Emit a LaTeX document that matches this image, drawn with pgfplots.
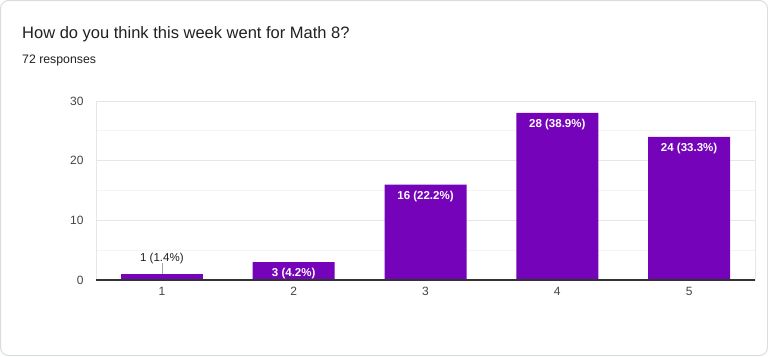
\documentclass[border=0pt]{standalone}
\usepackage{pgfplots}
\pgfplotsset{compat=1.18}
\usepackage{fontspec}
\setmainfont{Liberation Sans}
\definecolor{barpurple}{RGB}{117,3,185}
\definecolor{gridmaj}{RGB}{230,230,230}
\definecolor{gridmin}{RGB}{244,244,244}
\definecolor{cardborder}{RGB}{218,220,224}
\definecolor{txt}{RGB}{33,33,33}
\definecolor{ticktxt}{RGB}{68,68,68}
\begin{document}
\begin{tikzpicture}[x=1pt,y=1pt]
\fill[white] (0,0) rectangle (768,-356);
\draw[cardborder, rounded corners=8pt, line width=1pt] (0.5,-0.5) rectangle (767.5,-355.5);
\node[anchor=base west, text=txt, inner sep=0pt, font=\fontsize{16.5}{19}\selectfont] at (22,-38.5) {How do you think this week went for Math 8?};
\node[anchor=base west, text=txt, inner sep=0pt, font=\fontsize{12.3}{14}\selectfont] at (22,-63) {72 responses};
\begin{axis}[
  at={(96pt,-280pt)}, anchor=south west,
  scale only axis, width=659pt, height=179pt,
  xmin=0.5, xmax=5.5, ymin=0, ymax=30,
  xtick={1,2,3,4,5}, ytick={0,10,20,30},
  minor ytick={5,15,25},
  ymajorgrids, yminorgrids,
  major grid style={gridmaj, line width=0.8pt},
  minor grid style={gridmin, line width=0.8pt},
  axis line style={gridmaj, line width=0.8pt},
  major tick length=0pt, minor tick length=0pt,
  tick style={draw=none},
  /pgf/number format/assume math mode=true,
  ticklabel style={text=ticktxt, font=\fontsize{12}{14}\selectfont},
  yticklabel style={xshift=-9pt},
  xticklabel style={yshift=-4pt},
  clip=false,
]
\addplot[ybar, bar width=82pt, bar shift=0pt, fill=barpurple, draw=none,
  point meta=explicit symbolic,
  nodes near coords,
  every node near coord/.append style={anchor=north, text=white, yshift=-3pt, font=\bfseries\fontsize{11.5}{13}\selectfont}]
  coordinates {(2,3) [3 (4.2\%)] (3,16) [16 (22.2\%)] (4,28) [28 (38.9\%)] (5,24) [24 (33.3\%)]};
\addplot[ybar, bar width=82pt, bar shift=0pt, fill=barpurple, draw=none,
  point meta=explicit symbolic,
  nodes near coords,
  every node near coord/.append style={anchor=south, text=txt, yshift=7pt, font=\fontsize{11.5}{13}\selectfont}]
  coordinates {(1,1) [1 (1.4\%)]};
\draw[gray!70, line width=0.7pt] (axis cs:1,1) -- (axis cs:1,2.8);
\draw[black!80, line width=1.2pt] (axis cs:0.5,0) -- (axis cs:5.5,0);
\end{axis}
\end{tikzpicture}
\end{document}
